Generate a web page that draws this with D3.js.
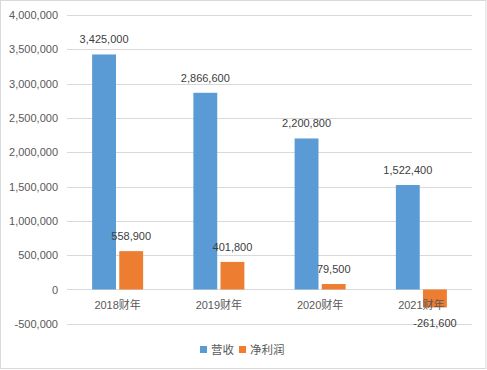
<!DOCTYPE html>
<html>
<head>
<meta charset="utf-8">
<script src="https://cdn.jsdelivr.net/npm/d3@7"></script>
<style>
  body { margin: 0; background: #fff; }
</style>
</head>
<body>
<div id="chart-wrapper"></div>
<script>
// Data
const categories = ["2018财年", "2019财年", "2020财年", "2021财年"]
const seriesNames = ["营收", "净利润"]
const revenue = [3425000, 2866600, 2200800, 1522400]
const netProfit = [558900, 401800, 79500, -261600]
const yTicks = [-500000, 0, 500000, 1000000, 1500000, 2000000, 2500000, 3000000, 3500000, 4000000]

const colors = ["#5B9BD5", "#ED7D31"]
const width = 487
const height = 370
const font = "'Liberation Sans', Arial, 'Noto Sans CJK SC', sans-serif"
// plain hyphen for negatives, like the original
const fmt = d3.formatLocale({decimal: ".", thousands: ",", grouping: [3], currency: ["", ""], minus: "-"}).format(",")

const svg = d3.select("#chart-wrapper")
  .append("svg")
  .attr("width", width)
  .attr("height", height)
  .style("font-family", font)

// Outer border
svg.append("rect")
  .attr("x", 0.5).attr("y", 0.5)
  .attr("width", width - 1.5).attr("height", height - 2)
  .attr("fill", "#fff")
  .attr("stroke", "#D9D9D9")

// Scales
const plot = {left: 67, right: 472, top: 15, bottom: 323.8}
const y = d3.scaleLinear().domain([-500000, 4000000]).range([plot.bottom, plot.top])
const x0 = d3.scaleBand().domain(categories).range([plot.left, plot.right])
const x1 = d3.scaleBand().domain(seriesNames).range([-25.5, 25.5]).paddingInner(0.12)

// Gridlines
svg.append("g")
  .selectAll("line")
  .data(yTicks)
  .join("line")
  .attr("x1", plot.left).attr("x2", plot.right)
  .attr("y1", d => Math.round(y(d)) + 0.5).attr("y2", d => Math.round(y(d)) + 0.5)
  .attr("stroke", "#D9D9D9")
  .attr("stroke-width", 1)

// Y axis labels
const yAxis = d3.axisLeft(y).tickValues(yTicks).tickFormat(fmt).tickSize(0).tickPadding(9)
const yG = svg.append("g")
  .attr("transform", `translate(${plot.left},0)`)
  .call(yAxis)
yG.select(".domain").remove()
yG.selectAll("text")
  .attr("fill", "#595959")
  .attr("font-size", 11)
  .attr("font-family", font)

// Bars
const rows = categories.map((c, i) => ({cat: c, values: [revenue[i], netProfit[i]]}))
const groups = svg.append("g")
  .selectAll("g")
  .data(rows)
  .join("g")
  .attr("transform", d => `translate(${x0(d.cat) + x0.bandwidth() / 2},0)`)

groups.selectAll("rect")
  .data(d => d.values.map((v, j) => ({name: seriesNames[j], v, j})))
  .join("rect")
  .attr("x", d => x1(d.name))
  .attr("width", x1.bandwidth())
  .attr("y", d => y(Math.max(0, d.v)))
  .attr("height", d => Math.abs(y(d.v) - y(0)))
  .attr("fill", d => colors[d.j])

// Category labels
svg.append("g")
  .selectAll("text")
  .data(categories)
  .join("text")
  .attr("x", d => x0(d) + x0.bandwidth() / 2)
  .attr("y", y(0) + 20)
  .attr("text-anchor", "middle")
  .attr("fill", "#595959")
  .attr("font-size", 11)
  .text(d => d)

// Data labels
groups.selectAll("text.val")
  .data(d => d.values.map((v, j) => ({name: seriesNames[j], v, j})))
  .join("text")
  .attr("class", "val")
  .attr("x", d => x1(d.name) + x1.bandwidth() / 2)
  .attr("y", d => d.v >= 0 ? y(d.v) - 11 : y(d.v) + 20)
  .attr("text-anchor", "middle")
  .attr("fill", "#404040")
  .attr("font-size", 11)
  .text(d => fmt(d.v))

// Legend
const legend = svg.append("g").attr("transform", "translate(200,350)")
const legendX = [0, 39]
seriesNames.forEach((name, i) => {
  const g = legend.append("g").attr("transform", `translate(${legendX[i]},0)`)
  g.append("rect").attr("x", 0).attr("y", -4).attr("width", 7).attr("height", 7).attr("fill", colors[i])
  g.append("text").attr("x", 11).attr("y", 4)
    .attr("fill", "#595959").attr("font-size", 11.5)
    .text(name)
})
</script>
</body>
</html>
